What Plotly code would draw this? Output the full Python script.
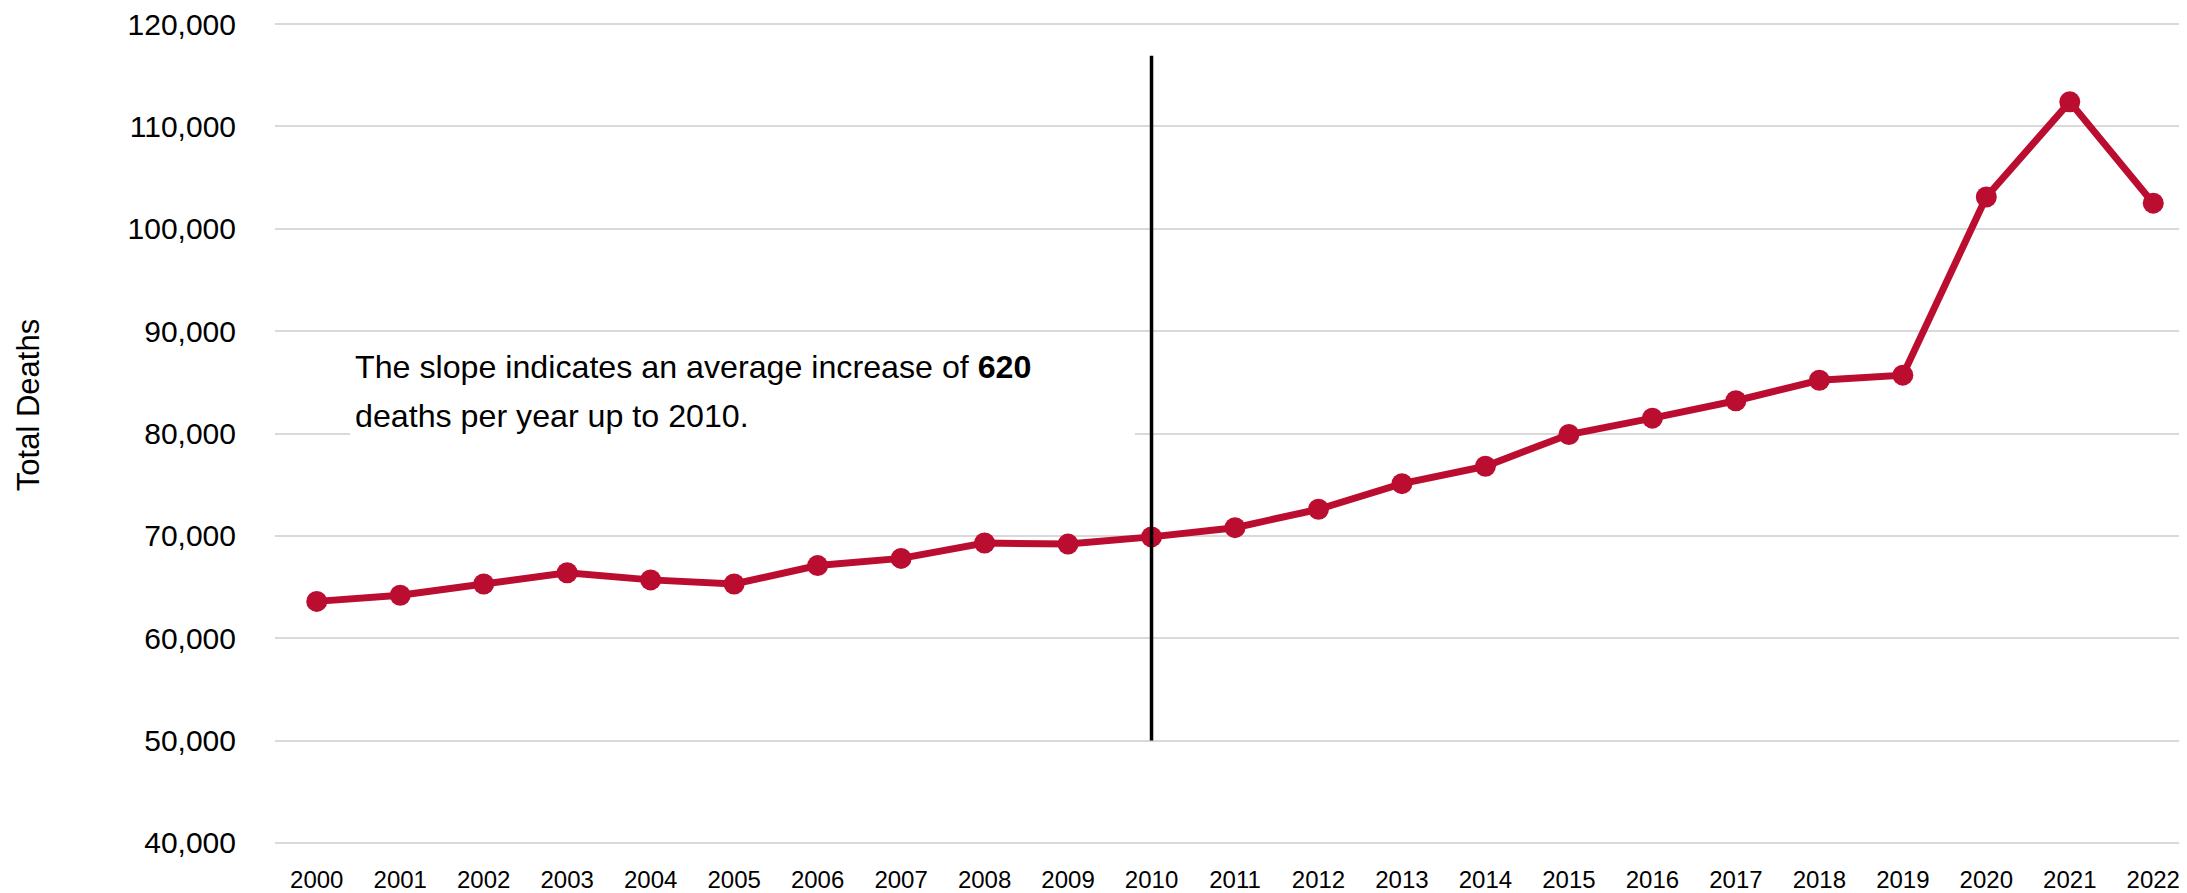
import plotly.graph_objects as go

years = list(range(2000, 2023))
total_deaths = [63600, 64200, 65300, 66400, 65700, 65300, 67100, 67800, 69300, 69200,
                69900, 70800, 72600, 75100, 76800, 79900, 81500, 83200, 85200, 85700,
                103100, 112400, 102500]
y_ticks = [40000, 50000, 60000, 70000, 80000, 90000, 100000, 110000, 120000]
y_tick_labels = ["40,000", "50,000", "60,000", "70,000", "80,000", "90,000",
                 "100,000", "110,000", "120,000"]
ref_year = [2010, 2010]
ref_span = [50000, 116900]
note_line1 = "The slope indicates an average increase of <b>620</b>"
note_line2 = "deaths per year up to 2010."
y_title = "Total Deaths"

FONT = "Liberation Sans, Arial, sans-serif"
RED = "#BA0D30"

fig = go.Figure()
fig.add_trace(go.Scatter(
    x=years, y=total_deaths, mode="lines+markers",
    line=dict(color=RED, width=7),
    marker=dict(color=RED, size=21),
    showlegend=False, hoverinfo="x+y"))
fig.add_trace(go.Scatter(
    x=ref_year, y=ref_span, mode="lines",
    line=dict(color="black", width=3.5),
    showlegend=False, hoverinfo="skip"))

# white box behind the note
fig.add_shape(type="rect", xref="x", yref="y",
              x0=2000.40, x1=2009.80, y0=77200, y1=88400,
              fillcolor="white", line=dict(width=0), layer="between")

fig.add_annotation(x=2000.45, y=86530, xref="x", yref="y", text=note_line1,
                   showarrow=False, xanchor="left", yanchor="middle", borderpad=0,
                   font=dict(family=FONT, size=32.2, color="black"))
fig.add_annotation(x=2000.45, y=81740, xref="x", yref="y", text=note_line2,
                   showarrow=False, xanchor="left", yanchor="middle", borderpad=0,
                   font=dict(family=FONT, size=32.2, color="black"))
fig.add_annotation(x=-0.1284, y=0.535, xref="paper", yref="paper", text=y_title,
                   showarrow=False, textangle=-90, xanchor="center", yanchor="middle",
                   font=dict(family=FONT, size=31, color="black"))

fig.update_layout(
    width=2187, height=893,
    margin=dict(l=267, r=0, t=14, b=56),
    paper_bgcolor="white", plot_bgcolor="white",
    font=dict(family=FONT, color="black"),
)
fig.update_xaxes(range=[1999.5, 2022.5], tickmode="array", tickvals=years,
                 ticktext=[str(y) for y in years], showgrid=False, zeroline=False,
                 showline=False, ticks="", ticklabelstandoff=18,
                 ticklabeloverflow="allow",
                 tickfont=dict(family=FONT, size=24, color="black"))
fig.update_yaxes(range=[39800, 120200], tickmode="array", tickvals=y_ticks,
                 ticktext=y_tick_labels, showgrid=True, gridcolor="#D9D9D9",
                 gridwidth=1.7, zeroline=False, showline=False, ticks="",
                 ticklabelstandoff=38, ticklabeloverflow="allow",
                 tickfont=dict(family=FONT, size=30, color="black"))

fig.write_html("out.html")
